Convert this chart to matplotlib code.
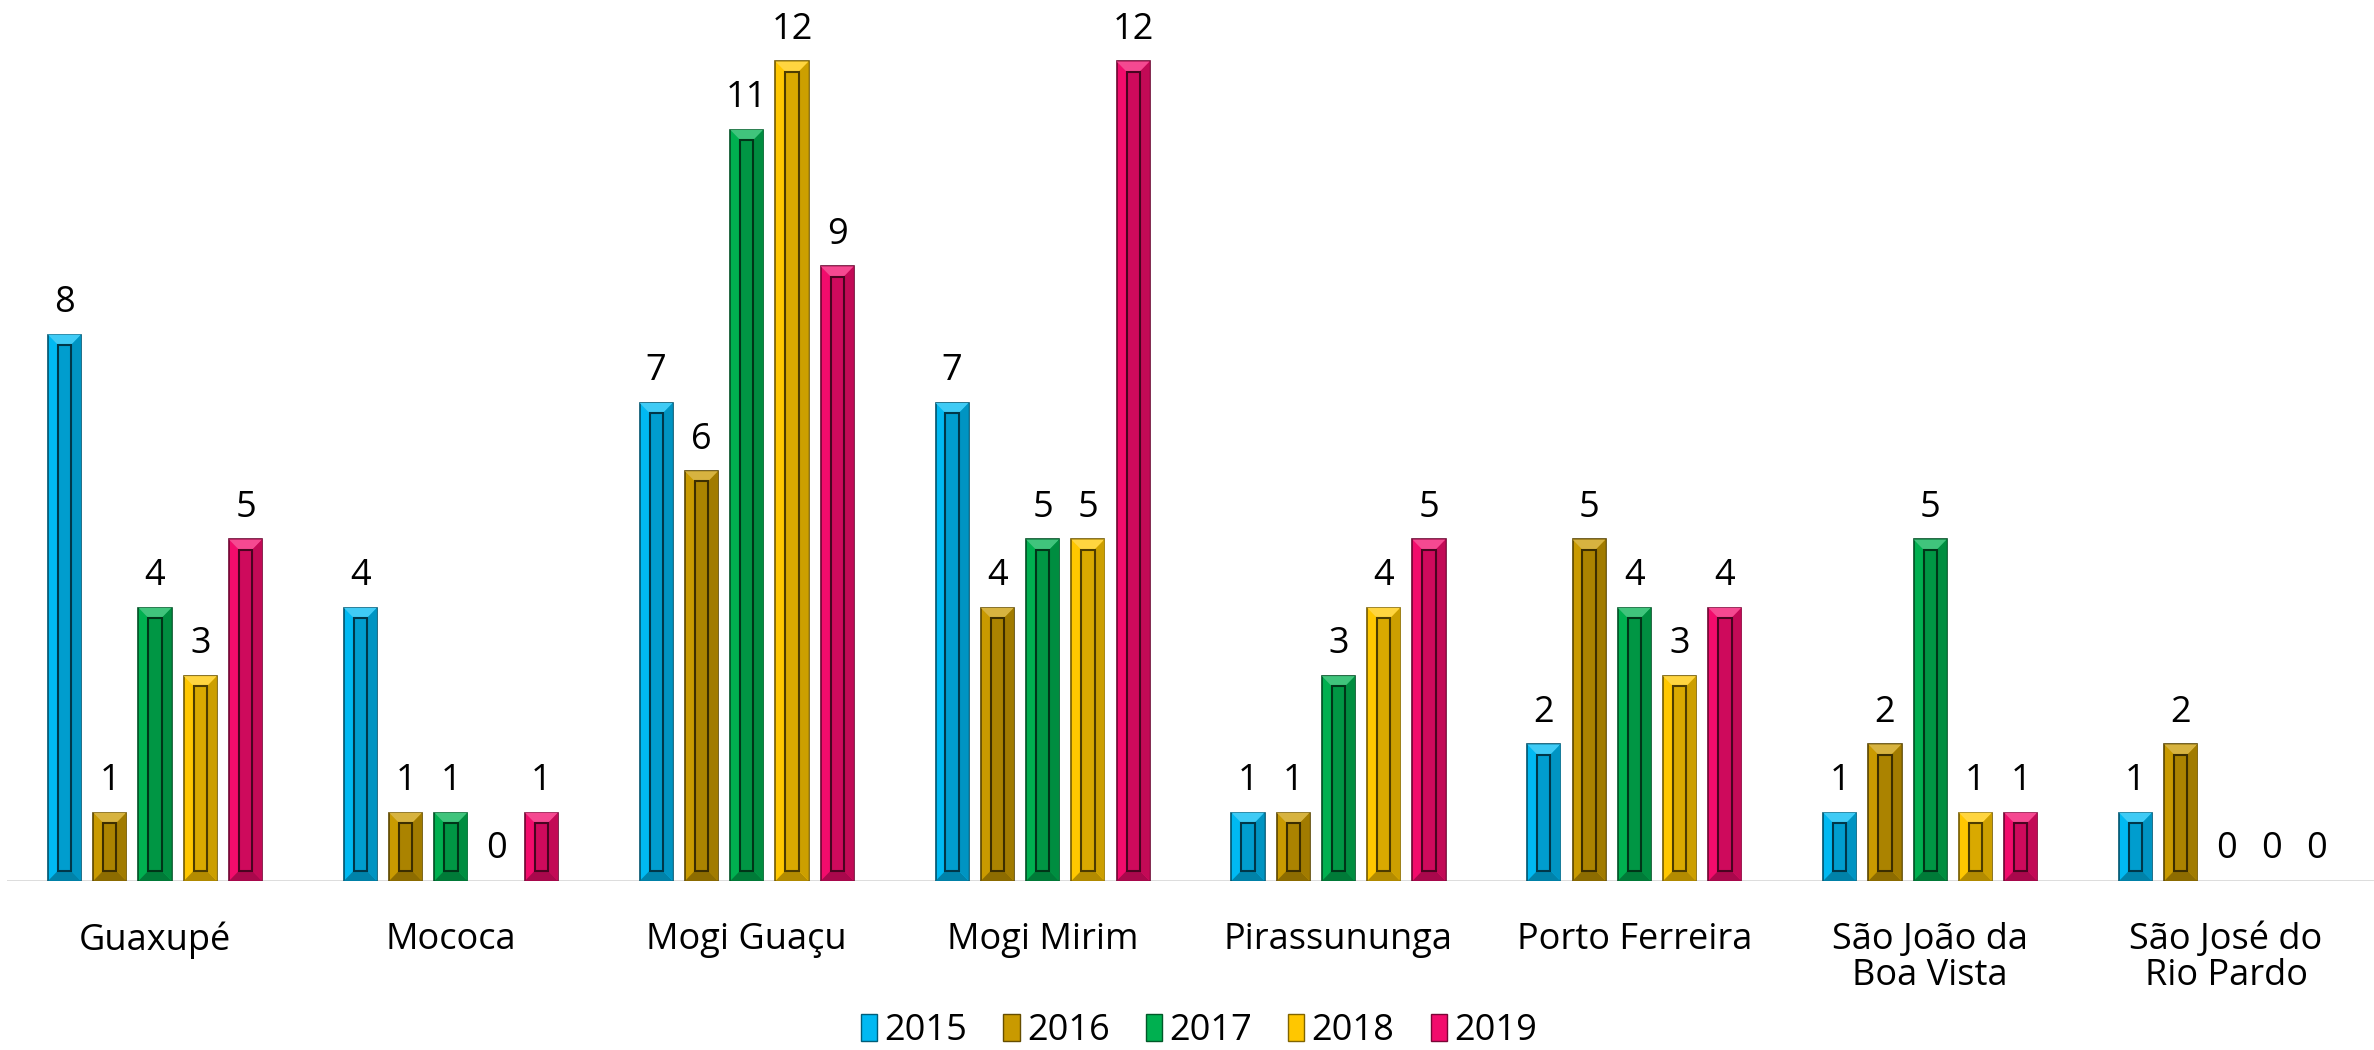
import numpy as np
import matplotlib
matplotlib.use("Agg")
import matplotlib.pyplot as plt
from matplotlib.patches import Polygon, Patch
from matplotlib.colors import to_rgb

categories = ["Guaxupé", "Mococa", "Mogi Guaçu", "Mogi Mirim", "Pirassununga",
              "Porto Ferreira", "São João da\nBoa Vista", "São José do\nRio Pardo"]
years = ["2015", "2016", "2017", "2018", "2019"]
v2015 = [8, 4, 7, 7, 1, 2, 1, 1]
v2016 = [1, 1, 6, 4, 1, 5, 2, 2]
v2017 = [4, 1, 11, 5, 3, 4, 5, 0]
v2018 = [3, 0, 12, 5, 4, 3, 1, 0]
v2019 = [5, 1, 9, 12, 5, 4, 1, 0]
series = [v2015, v2016, v2017, v2018, v2019]
colors = ["#00B9F2", "#C99A00", "#00B050", "#FFC700", "#F20C6C"]


def shade(c, f):
    r = np.array(to_rgb(c))
    if f < 1:
        return tuple(r * f)
    return tuple(r + (1 - r) * (f - 1))


plt.rcParams['font.family'] = ['Open Sans', 'DejaVu Sans']

fig = plt.figure(figsize=(23.74, 10.5), dpi=100)
ax = fig.add_axes([0.003, 0.161, 0.997, 0.839])

x = np.arange(len(categories))
step = 0.153
w = 0.112
bev_y = 0.15
bev_x = w * 0.3

for i, (vals, c) in enumerate(zip(series, colors)):
    xs = x + (i - 2) * step
    dark = shade(c, 0.45)
    for xc, v in zip(xs, vals):
        if v > 0:
            ax.bar(xc, v, width=w, color=c, edgecolor=dark, linewidth=1.2, zorder=2)
            l, r = xc - w / 2, xc + w / 2
            # bevels: lighter top, darker bottom and right side
            ax.add_patch(Polygon([(l, v), (r, v), (r - bev_x, v - bev_y), (l + bev_x, v - bev_y)],
                                 closed=True, facecolor=shade(c, 1.25), edgecolor='none', zorder=3))
            ax.add_patch(Polygon([(l, 0), (r, 0), (r - bev_x, bev_y), (l + bev_x, bev_y)],
                                 closed=True, facecolor=shade(c, 0.7), edgecolor='none', zorder=3))
            ax.add_patch(Polygon([(r, 0), (r, v), (r - bev_x, v - bev_y), (r - bev_x, bev_y)],
                                 closed=True, facecolor=shade(c, 0.8), edgecolor='none', zorder=3))
            ax.bar(xc, v - 2 * bev_y, bottom=bev_y, width=w * 0.4, color=shade(c, 0.85),
                   edgecolor=shade(c, 0.3), linewidth=1.5, zorder=4)
        ax.text(xc, v + 0.2, str(v), ha='center', va='bottom', fontsize=26, color='black', zorder=5)

ax.set_xlim(-0.5, len(categories) - 0.5)
ax.set_ylim(0, 12.9)
ax.axhline(0, color='#D9D9D9', linewidth=2, zorder=1)
for s in ax.spines.values():
    s.set_visible(False)
ax.set_yticks([])
ax.set_xticks([])
for xi, cat in zip(x, categories):
    ax.text(xi, -0.6, cat, ha='center', va='top', fontsize=26, linespacing=1.0)

handles = [Patch(facecolor=c, edgecolor=shade(c, 0.5)) for c in colors]
fig.legend(handles, years, loc='center', bbox_to_anchor=(0.505, 0.018), ncol=5, frameon=False,
           fontsize=26, handlelength=0.45, handleheight=0.8, handletextpad=0.2, columnspacing=1.0)

fig.savefig("out.png", dpi=100, facecolor='white')
